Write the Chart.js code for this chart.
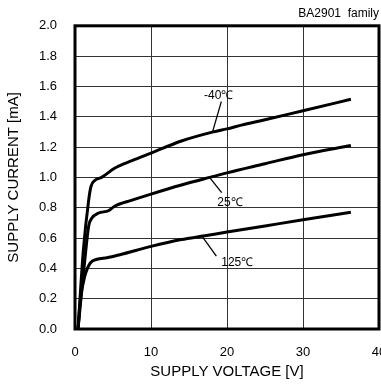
<!DOCTYPE html>
<html>
<head>
<meta charset="utf-8">
<script src="https://cdn.jsdelivr.net/npm/chart.js@4"></script>
<style>
  html, body { margin: 0; padding: 0; background: #fff; overflow: hidden; }
  #wrap { width: 403px; height: 389px; }
</style>
</head>
<body>
<div id="wrap"><canvas id="chart"></canvas></div>
<script>
// Courbes (tension en V, courant en mA)
const voltM40 = [0.4, 1.1, 1.8, 2.1, 2.6, 3.5, 5.2, 7.5, 10, 14, 18.2, 20, 21.9, 25, 30, 36.3];
const currM40 = [0, 0.52, 0.85, 0.94, 0.98, 1.0, 1.06, 1.11, 1.16, 1.24, 1.30, 1.32, 1.345, 1.38, 1.44, 1.515];

const volt25 = [0.4, 1.3, 1.8, 2.2, 3.1, 4.4, 5.2, 7.5, 10, 14, 17.7, 20, 25, 30, 36.3];
const curr25 = [0, 0.46, 0.68, 0.73, 0.765, 0.78, 0.81, 0.85, 0.89, 0.95, 1.0, 1.03, 1.09, 1.15, 1.21];

const volt125 = [0.4, 0.7, 1.3, 2.0, 2.9, 4.2, 5.9, 10, 14, 17.1, 20, 25, 30, 36.3];
const curr125 = [0, 0.19, 0.35, 0.435, 0.46, 0.47, 0.49, 0.545, 0.59, 0.615, 0.64, 0.68, 0.72, 0.77];

const seriesLabels = ['-40℃', '25℃', '125℃'];

// Etiquettes : position du texte et trait de rappel (en unités de données)
const labelText = [18.9, 1.54, 20.4, 0.83, 21.35, 0.44];
const leaderFrom = [19.25, 1.50, 17.7, 1.0, 16.75, 0.61];
const leaderTo = [18.1, 1.30, 19.3, 0.90, 18.6, 0.48];

const xTicks = [0, 10, 20, 30, 40];
const yTicks = [0, 0.2, 0.4, 0.6, 0.8, 1.0, 1.2, 1.4, 1.6, 1.8, 2.0];

const FONT = "'Liberation Sans', Arial, sans-serif";

function pts(xs, ys) {
    return xs.map((x, i) => ({ x: x, y: ys[i] }));
}

const lineStyle = {
    borderColor: '#000',
    borderWidth: 3,
    pointRadius: 0,
    fill: false,
    cubicInterpolationMode: 'monotone'
};

// Cadre épais + étiquettes des températures
const annotations = {
    id: 'annotations',
    afterDatasetsDraw(chart) {
        const { ctx, chartArea, scales } = chart;
        const xs = scales.x, ys = scales.y;
        ctx.save();
        ctx.strokeStyle = '#000';
        ctx.lineWidth = 1.3;
        for (let i = 0; i < 3; i++) {
            ctx.beginPath();
            ctx.moveTo(xs.getPixelForValue(leaderFrom[2 * i]), ys.getPixelForValue(leaderFrom[2 * i + 1]));
            ctx.lineTo(xs.getPixelForValue(leaderTo[2 * i]), ys.getPixelForValue(leaderTo[2 * i + 1]));
            ctx.stroke();
        }
        ctx.fillStyle = '#000';
        ctx.font = '12px ' + FONT;
        ctx.textAlign = 'center';
        ctx.textBaseline = 'middle';
        for (let i = 0; i < 3; i++) {
            ctx.fillText(seriesLabels[i], xs.getPixelForValue(labelText[2 * i]), ys.getPixelForValue(labelText[2 * i + 1]));
        }
        ctx.lineWidth = 3;
        ctx.strokeRect(chartArea.left, chartArea.top, chartArea.right - chartArea.left, chartArea.bottom - chartArea.top);
        ctx.restore();
    }
};

new Chart(document.getElementById('chart'), {
    type: 'line',
    data: {
        datasets: [
            Object.assign({ label: seriesLabels[0], data: pts(voltM40, currM40) }, lineStyle),
            Object.assign({ label: seriesLabels[1], data: pts(volt25, curr25) }, lineStyle),
            Object.assign({ label: seriesLabels[2], data: pts(volt125, curr125) }, lineStyle)
        ]
    },
    options: {
        responsive: true,
        maintainAspectRatio: false,
        animation: false,
        layout: { padding: { left: 5, right: 24, top: 0, bottom: 8 } },
        plugins: {
            legend: { display: false },
            tooltip: { enabled: false },
            title: {
                display: true,
                text: 'BA2901  family',
                align: 'end',
                color: '#000',
                font: { family: FONT, size: 12, weight: 'normal' },
                padding: { top: 6, bottom: 4.6 }
            }
        },
        scales: {
            x: {
                type: 'linear',
                min: 0,
                max: 40,
                afterBuildTicks: s => { s.ticks = xTicks.map(v => ({ value: v })); },
                afterFit: s => { s.height = 52; },
                grid: { color: '#333', lineWidth: 1, drawTicks: false },
                border: { display: false },
                ticks: {
                    color: '#000',
                    padding: 16,
                    maxRotation: 0,
                    font: { family: FONT, size: 13 }
                },
                title: {
                    display: true,
                    text: 'SUPPLY VOLTAGE [V]',
                    color: '#000',
                    font: { family: FONT, size: 15 },
                    padding: 0
                }
            },
            y: {
                min: 0,
                max: 2,
                afterBuildTicks: s => { s.ticks = yTicks.map(v => ({ value: v })); },
                afterFit: s => { s.width = 70; },
                grid: { color: '#333', lineWidth: 1, drawTicks: false },
                border: { display: false },
                ticks: {
                    color: '#000',
                    padding: 18,
                    font: { family: FONT, size: 13 },
                    callback: v => v.toFixed(1)
                },
                title: {
                    display: true,
                    text: 'SUPPLY CURRENT [mA]',
                    color: '#000',
                    font: { family: FONT, size: 15 },
                    padding: 0
                }
            }
        }
    },
    plugins: [annotations]
});
</script>
</body>
</html>
